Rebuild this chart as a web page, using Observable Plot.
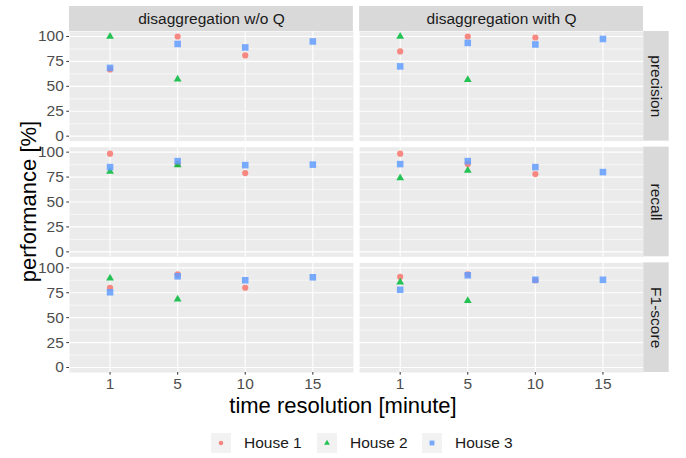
<!DOCTYPE html>
<html><head><meta charset="utf-8">
<script src="https://cdn.jsdelivr.net/npm/d3@7"></script>
<script src="https://cdn.jsdelivr.net/npm/@observablehq/plot@0.6"></script>
<style>
body{margin:0;background:#fff;font-family:"Liberation Sans",Arial,sans-serif;}
#legend{height:38px;position:relative;width:686px;}
.item{position:absolute;top:13px;height:20px;display:flex;align-items:center;font-size:15.5px;color:#1A1A1A;}
.key{width:20px;height:20px;background:#F2F2F2;margin-right:13px;}
</style></head><body><div id="chart"></div><div id="legend"></div>
<script>
// ---- data ----
const resolutions = ["1", "5", "10", "15"];
const methods = ["disaggregation w/o Q", "disaggregation with Q"];
const metrics = ["precision", "recall", "F1-score"];
const houses = ["House 1", "House 2", "House 3"];
const houseColors = ["#F8766D", "#00BA38", "#619CFF"];
const houseSymbols = ["circle", "triangle", "square"];
const yTicks = [0, 25, 50, 75, 100];
const yMinor = [12.5, 37.5, 62.5, 87.5];

// values[house][method][metric] -> by resolution (1, 5, 10, 15)
const house1_woQ = {precision: [67, 100, 81, null], recall: [98.5, 88, 79, null], "F1-score": [80, 93.5, 80, null]};
const house1_wQ  = {precision: [85, 100, 99, null], recall: [98.5, 88, 78, null], "F1-score": [91, 93.5, 87.5, null]};
const house2_woQ = {precision: [100, 57, null, null], recall: [80.5, 87, null, null], "F1-score": [89.5, 68.5, null, null]};
const house2_wQ  = {precision: [100, 56.5, null, null], recall: [74, 81.5, null, null], "F1-score": [85.5, 67, null, null]};
const house3_woQ = {precision: [68.5, 92.5, 89, 95], recall: [85, 91, 87, 87.5], "F1-score": [75.5, 91.5, 87.5, 90.5]};
const house3_wQ  = {precision: [70, 93.5, 92, 97.5], recall: [88, 91, 85, 80], "F1-score": [78, 92.5, 88, 88]};

const table = [[house1_woQ, house1_wQ], [house2_woQ, house2_wQ], [house3_woQ, house3_wQ]];
const rows = [];
houses.forEach((h, hi) => methods.forEach((m, mi) => metrics.forEach(k => {
  table[hi][mi][k].forEach((v, ri) => {
    if (v != null) rows.push({house: h, method: m, metric: k, res: resolutions[ri], value: v});
  });
})));

const FONT = '"Liberation Sans", Arial, sans-serif';
const dotR = {"House 1": 3.1, "House 2": 2.9, "House 3": 3.7};

const plot = Plot.plot({
  width: 686, height: 420,
  marginTop: 31, marginLeft: 69, marginRight: 43, marginBottom: 48,
  style: {fontFamily: FONT, background: "#fff", overflow: "visible"},
  fx: {domain: methods, axis: null, paddingInner: 0.0215, paddingOuter: 0, round: false},
  fy: {domain: metrics, axis: null, paddingInner: 0.052, paddingOuter: 0, round: false},
  x: {type: "point", domain: resolutions, padding: 0.6, round: false},
  y: {domain: [-5, 105]},
  symbol: {domain: houses, range: houseSymbols},
  color: {domain: houses, range: houseColors},
  marks: [
    Plot.frame({fill: "#EBEBEB"}),
    Plot.gridY(yMinor, {stroke: "#fff", strokeOpacity: 1, strokeWidth: 0.55}),
    Plot.gridY(yTicks, {stroke: "#fff", strokeOpacity: 1, strokeWidth: 1.1}),
    Plot.gridX(resolutions, {stroke: "#fff", strokeOpacity: 1, strokeWidth: 1.1}),
    Plot.axisY(yTicks, {anchor: "left", tickSize: 2.7, tickPadding: 3, fontSize: 15.5, stroke: "#333", fill: "#4D4D4D", label: null}),
    Plot.axisX(resolutions, {anchor: "bottom", tickSize: 2.7, tickPadding: 3, fontSize: 15.5, stroke: "#333", fill: "#4D4D4D", label: null}),
    ...houses.map(h => Plot.dot(rows.filter(d => d.house === h), {
      x: "res", y: "value", fx: "method", fy: "metric",
      symbol: "house", fill: "house", r: dotR[h], fillOpacity: 0.85
    })),
    Plot.text(methods, {fx: d => d, fy: () => metrics[0], text: d => d, frameAnchor: "top",
      lineAnchor: "middle", textAnchor: "middle", dy: -12.5, fontSize: 15.5, fill: "#1A1A1A"}),
    Plot.text(metrics, {fy: d => d, fx: () => methods[1], text: d => d, frameAnchor: "right",
      lineAnchor: "middle", textAnchor: "middle", dx: 12.85, rotate: 90, fontSize: 15.5, fill: "#1A1A1A"})
  ]
});

// strip backgrounds from the facet scales
const svg = d3.select(plot);
const fxS = plot.scale("fx"), fyS = plot.scale("fy");
const stripBg = "#D9D9D9";
const top0 = fyS.apply(metrics[0]);
methods.forEach(m => {
  svg.insert("rect", ":first-child").attr("x", fxS.apply(m)).attr("y", top0 - 25)
    .attr("width", fxS.bandwidth).attr("height", 25).attr("fill", stripBg);
});
const right0 = fxS.apply(methods[1]) + fxS.bandwidth;
metrics.forEach(k => {
  svg.insert("rect", ":first-child").attr("x", right0).attr("y", fyS.apply(k))
    .attr("width", 25.7).attr("height", fyS.bandwidth).attr("fill", stripBg);
});

// axis titles
const bottom = fyS.apply(metrics[2]) + fyS.bandwidth;
const midY = (top0 + bottom) / 2;
svg.append("text").attr("x", 343).attr("y", bottom + 41).attr("text-anchor", "middle")
  .attr("font-size", 22).attr("fill", "#000").attr("font-family", FONT).text("time resolution [minute]");
svg.append("text").attr("transform", `translate(28,${midY}) rotate(-90)`).attr("text-anchor", "middle")
  .attr("dy", "0.35em").attr("font-size", 22).attr("fill", "#000").attr("font-family", FONT).text("performance [%]");

document.getElementById("chart").appendChild(plot);

// legend
const legend = d3.select("#legend");
const legendX = [211, 317, 422];
houses.forEach((h, i) => {
  const item = legend.append("div").attr("class", "item").style("left", legendX[i] + "px");
  const key = item.append("svg").attr("class", "key").attr("width", 20).attr("height", 20);
  const sym = {circle: d3.symbolCircle, triangle: d3.symbolTriangle, square: d3.symbolSquare}[houseSymbols[i]];
  key.append("path").attr("transform", "translate(10,10)")
    .attr("d", d3.symbol(sym, Math.PI * dotR[h] * dotR[h] * 0.55)())
    .attr("fill", houseColors[i]).attr("fill-opacity", 0.85);
  item.append("span").text(h);
});
</script>
</body></html>
